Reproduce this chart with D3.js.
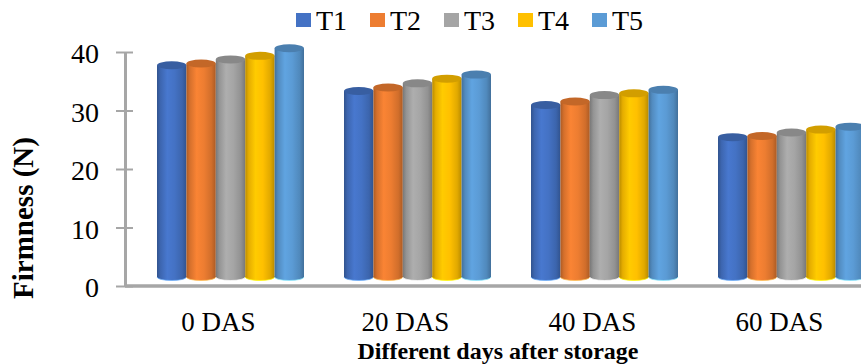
<!DOCTYPE html>
<html>
<head>
<meta charset="utf-8">
<script src="https://cdn.jsdelivr.net/npm/d3@7"></script>
<style>
  html, body { margin: 0; padding: 0; background: #fff; }
  svg { display: block; font-family: "Liberation Serif", "Times New Roman", serif; }
</style>
</head>
<body>
<svg id="chart" width="861" height="364"></svg>
<script>
// Firmness (N) of fruit under five treatments over storage time
const categories = ["0 DAS", "20 DAS", "40 DAS", "60 DAS"];
const seriesNames = ["T1", "T2", "T3", "T4", "T5"];
const seriesColors = ["#4472C4", "#ED7D31", "#A5A5A5", "#FFC000", "#5B9BD5"];
const T1 = [36.2, 31.8, 29.4, 23.9];
const T2 = [36.5, 32.4, 30.0, 24.1];
const T3 = [37.2, 33.1, 31.1, 24.7];
const T4 = [37.8, 33.9, 31.4, 25.2];
const T5 = [39.1, 34.6, 32.0, 25.7];
const seriesValues = [T1, T2, T3, T4, T5];
const yTicks = [0, 10, 20, 30, 40];

(function () {
  const svg = d3.select("#chart");
  const W = 861;

  // plot frame
  const plotLeft = 125, plotBottom = 286, plotTop = 52;
  const bandStep = 187;
  const x0 = d3.scaleBand().domain(categories)
    .range([plotLeft, plotLeft + bandStep * categories.length]).padding(0);
  const groupWidth = 147;
  const x1 = d3.scaleBand().domain(seriesNames).range([0, groupWidth]).padding(0);
  const y = d3.scaleLinear().domain([0, 40]).range([plotBottom, plotTop]);

  // perspective offset of the 3-D bars (depth shift right/up)
  const depthX = 12, depthY = 9;
  const ry = 3.5;

  const defs = svg.append("defs");
  seriesColors.forEach((c, i) => {
    const base = d3.color(c);
    const g = defs.append("linearGradient").attr("id", "cyl" + i)
      .attr("x1", "0%").attr("x2", "100%").attr("y1", "0%").attr("y2", "0%");
    const stops = [
      [0, base.darker(0.9)],
      [0.12, base.darker(0.3)],
      [0.35, base.brighter(0.15)],
      [0.6, base],
      [0.85, base.darker(0.35)],
      [1, base.darker(0.9)]
    ];
    stops.forEach(([o, col]) => g.append("stop").attr("offset", o).attr("stop-color", col.formatHex()));
  });

  // axis lines
  const gridColor = "#a6a6a6";
  svg.append("line")
    .attr("x1", plotLeft).attr("x2", W).attr("y1", y(0)).attr("y2", y(0))
    .attr("stroke", gridColor).attr("stroke-width", 3.5);

  const yAxis = svg.append("g")
    .attr("transform", `translate(${plotLeft},0)`)
    .call(d3.axisLeft(y).tickValues(yTicks).tickSize(0).tickPadding(26).tickFormat(d3.format("d")));
  yAxis.select(".domain").attr("stroke", gridColor).attr("stroke-width", 3);
  yAxis.selectAll(".tick line").attr("x1", -9).attr("x2", 8).attr("stroke", gridColor).attr("stroke-width", 2);
  yAxis.selectAll(".tick text")
    .attr("font-family", "Liberation Serif, Times New Roman, serif")
    .attr("font-size", 28).attr("fill", "#000").attr("dy", "0.38em");

  // cylinders
  const groups = svg.append("g").selectAll("g")
    .data(categories)
    .join("g")
    .attr("transform", c => `translate(${x0(c) + (x0.bandwidth() - groupWidth) / 2 + depthX},0)`);

  groups.each(function (cat, ci) {
    const g = d3.select(this);
    seriesNames.forEach((s, si) => {
      const v = seriesValues[si][ci];
      const bx = x1(s), bw = x1.bandwidth();
      const cx = bx + bw / 2;
      const yTop = y(v) - depthY;
      const yBot = y(0) - depthY;
      const fill = `url(#cyl${si})`;
      // bottom cap
      g.append("ellipse").attr("cx", cx).attr("cy", yBot).attr("rx", bw / 2).attr("ry", ry)
        .attr("fill", fill);
      g.append("path")
        .attr("d", `M${bx},${yBot} A${bw / 2},${ry} 0 0 0 ${bx + bw},${yBot}`)
        .attr("fill", "none").attr("stroke", d3.color(seriesColors[si]).brighter(1.2).formatHex())
        .attr("stroke-width", 1).attr("opacity", 0.7);
      // body
      g.append("rect").attr("x", bx).attr("y", yTop).attr("width", bw).attr("height", yBot - yTop)
        .attr("fill", fill);
      // top cap
      g.append("ellipse").attr("cx", cx).attr("cy", yTop).attr("rx", bw / 2).attr("ry", ry + 0.5)
        .attr("fill", d3.color(seriesColors[si]).darker(0.55).formatHex());
    });
  });

  // category labels
  svg.append("g").selectAll("text")
    .data(categories)
    .join("text")
    .attr("x", c => x0(c) + x0.bandwidth() / 2)
    .attr("y", 331)
    .attr("text-anchor", "middle")
    .attr("font-size", 27)
    .attr("fill", "#000")
    .text(c => c);

  // axis titles
  svg.append("text")
    .attr("transform", "translate(33,218) rotate(-90)")
    .attr("text-anchor", "middle")
    .attr("font-size", 29).attr("font-weight", "bold").attr("fill", "#000")
    .text("Firmness (N)");

  svg.append("text")
    .attr("x", 498).attr("y", 358.5)
    .attr("text-anchor", "middle")
    .attr("font-size", 24).attr("font-weight", "bold").attr("fill", "#000")
    .text("Different days after storage");

  // legend
  const legend = svg.append("g").selectAll("g")
    .data(seriesNames)
    .join("g")
    .attr("transform", (d, i) => `translate(${296 + i * 74},0)`);
  legend.append("rect").attr("x", 0).attr("y", 13).attr("width", 15).attr("height", 14)
    .attr("fill", (d, i) => seriesColors[i]);
  legend.append("text").attr("x", 20).attr("y", 29.5)
    .attr("font-size", 28).attr("fill", "#000")
    .text(d => d);
})();
</script>
</body>
</html>
